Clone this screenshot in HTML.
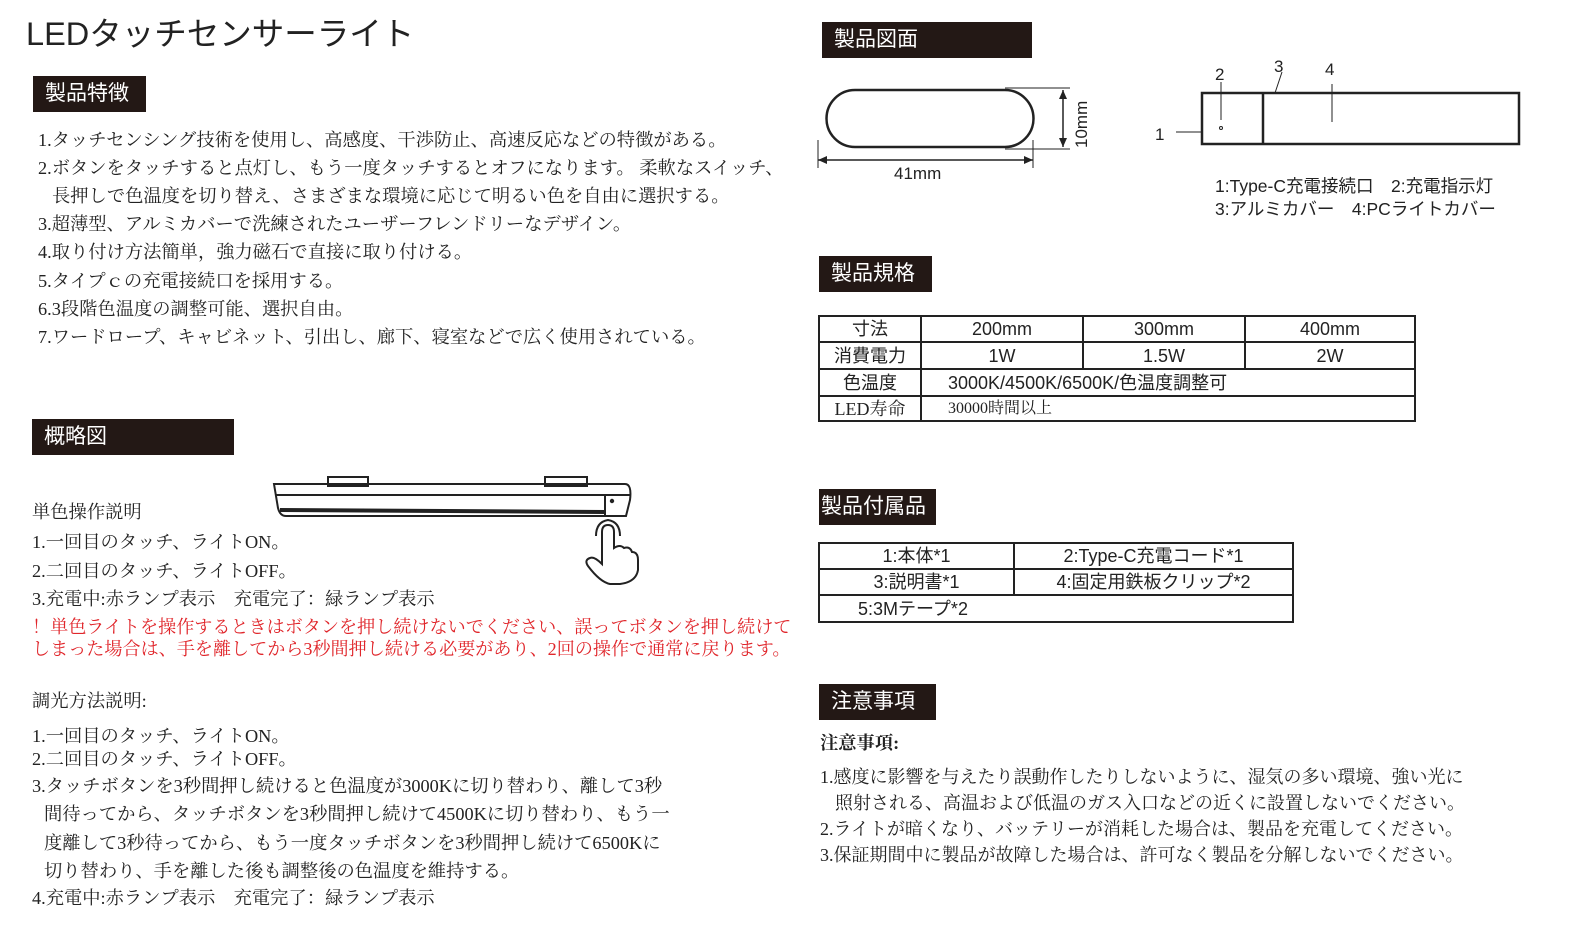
<!DOCTYPE html>
<html><head><meta charset="utf-8">
<style>
body{margin:0;width:1578px;height:939px;background:#fff;position:relative;overflow:hidden;font-family:"Liberation Serif","Noto Serif CJK SC","Noto Sans CJK JP",serif;color:#222}
.t{position:absolute;white-space:nowrap;font-size:18.3px;line-height:20px}
.s{font-family:"Liberation Sans","Noto Sans CJK JP",sans-serif}
.h{position:absolute;background:#231815;color:#fff;font-family:"Liberation Sans","Noto Sans CJK JP",sans-serif;font-size:21px;line-height:36px;height:36px;padding-left:12px;box-sizing:border-box}
.red{color:#e0262b}
table{position:absolute;border-collapse:collapse;font-family:"Liberation Sans","Noto Sans CJK JP",sans-serif;font-size:18px}
td{border:2px solid #222;padding:0;text-align:center;line-height:22px}
</style></head><body>
<div class="t s" style="left:26px;top:14px;font-size:32.5px;line-height:40px">LEDタッチセンサーライト</div>

<div class="h" style="left:33px;top:76px;width:113px">製品特徴</div>
<div class="t" style="left:38px;top:130px">1.タッチセンシング技術を使用し、高感度、干渉防止、高速反応などの特徴がある。</div>
<div class="t" style="left:38px;top:158px">2.ボタンをタッチすると点灯し、もう一度タッチするとオフになります。 柔軟なスイッチ、</div>
<div class="t" style="left:52px;top:186px">長押しで色温度を切り替え、さまざまな環境に応じて明るい色を自由に選択する。</div>
<div class="t" style="left:38px;top:214px">3.超薄型、アルミカバーで洗練されたユーザーフレンドリーなデザイン。</div>
<div class="t" style="left:38px;top:242px">4.取り付け方法簡単，強力磁石で直接に取り付ける。</div>
<div class="t" style="left:38px;top:271px">5.タイプｃの充電接続口を採用する。</div>
<div class="t" style="left:38px;top:299px">6.3段階色温度の調整可能、選択自由。</div>
<div class="t" style="left:38px;top:327px">7.ワードロープ、キャビネット、引出し、廊下、寝室などで広く使用されている。</div>

<div class="h" style="left:32px;top:419px;width:202px">概略図</div>
<svg style="position:absolute;left:270px;top:470px" width="370" height="120" viewBox="0 0 370 120">
<g fill="none" stroke="#222" stroke-width="2">
<rect x="58" y="7" width="40" height="9"/><rect x="275" y="7" width="42" height="9"/>
<path d="M4 14 H355 Q362 14 360 30 L356 46 H16 Q10 46 8 38 Z"/>
<line x1="6" y1="25" x2="360" y2="25"/>
<path d="M10 40 L335 42" stroke-width="4"/>
<line x1="335" y1="25" x2="335" y2="46"/>
<circle cx="342" cy="31" r="1.2" fill="#222"/>
<path d="M332 80 V62 Q332 55 338 55 Q344 55 344 62 V78 Q350 74 354 78 Q360 76 362 82 Q368 82 368 90 V100 Q366 112 350 114 H340 Q330 112 318 96 Q314 90 320 88 Q324 86 332 94 Z"/>
<path d="M326 66 Q326 52 338 50 Q350 52 350 66"/>
</g></svg>

<div class="t" style="left:32px;top:502px">単色操作説明</div>
<div class="t" style="left:32px;top:532px">1.一回目のタッチ、ライトON。</div>
<div class="t" style="left:32px;top:561px">2.二回目のタッチ、ライトOFF。</div>
<div class="t" style="left:32px;top:589px">3.充電中:赤ランプ表示　充電完了：緑ランプ表示</div>
<div class="t red" style="left:32px;top:617px;font-size:18.1px">！単色ライトを操作するときはボタンを押し続けないでください、誤ってボタンを押し続けて</div>
<div class="t red" style="left:32px;top:639px;font-size:18.1px">しまった場合は、手を離してから3秒間押し続ける必要があり、2回の操作で通常に戻ります。</div>
<div class="t" style="left:32px;top:691px">調光方法説明:</div>
<div class="t" style="left:32px;top:726px">1.一回目のタッチ、ライトON。</div>
<div class="t" style="left:32px;top:749px">2.二回目のタッチ、ライトOFF。</div>
<div class="t" style="left:32px;top:776px">3.タッチボタンを3秒間押し続けると色温度が3000Kに切り替わり、離して3秒</div>
<div class="t" style="left:44px;top:804px">間待ってから、タッチボタンを3秒間押し続けて4500Kに切り替わり、もう一</div>
<div class="t" style="left:44px;top:833px">度離して3秒待ってから、もう一度タッチボタンを3秒間押し続けて6500Kに</div>
<div class="t" style="left:44px;top:861px">切り替わり、手を離した後も調整後の色温度を維持する。</div>
<div class="t" style="left:32px;top:888px">4.充電中:赤ランプ表示　充電完了：緑ランプ表示</div>

<div class="h" style="left:822px;top:22px;width:210px">製品図面</div>
<svg style="position:absolute;left:805px;top:60px" width="740" height="130" viewBox="0 0 740 130">
<g fill="none" stroke="#222" stroke-width="2">
<path d="M50 30 H200 A28 28 0 0 1 200 87 H50 A28 28 0 0 1 50 30 Z" stroke-width="2.5"/>
<line x1="200" y1="28" x2="265" y2="28" stroke-width="1"/><line x1="200" y1="89" x2="265" y2="89" stroke-width="1"/>
<line x1="258" y1="30" x2="258" y2="87" stroke-width="1.5"/>
<line x1="13" y1="80" x2="13" y2="108" stroke-width="1"/><line x1="228" y1="80" x2="228" y2="108" stroke-width="1"/>
<line x1="13" y1="100" x2="228" y2="100" stroke-width="1.5"/>
<rect x="397" y="33" width="317" height="51" stroke-width="2.5"/>
<line x1="458" y1="33" x2="458" y2="84" stroke-width="2.5"/>
<line x1="371" y1="72" x2="397" y2="72" stroke-width="1"/>
<line x1="416" y1="22" x2="416" y2="60" stroke-width="1"/>
<line x1="477" y1="12" x2="470" y2="33" stroke-width="1"/>
<line x1="527" y1="24" x2="527" y2="62" stroke-width="1"/>
<circle cx="416" cy="68" r="1.5" stroke-width="1"/>
</g>
<g fill="#222"><path d="M258 30 l-4 9 h8z"/><path d="M258 87 l-4 -9 h8z"/><path d="M13 100 l9 -4 v8z"/><path d="M228 100 l-9 -4 v8z"/></g>
<g font-family="Liberation Sans,sans-serif" font-size="17" fill="#222">
<text x="89" y="119">41mm</text>
<text transform="translate(282 88) rotate(-90)">10mm</text>
<text x="350" y="80">1</text><text x="410" y="20">2</text><text x="469" y="12">3</text><text x="520" y="15">4</text>
</g></svg>
<div class="t s" style="left:1215px;top:176px;font-size:17.5px">1:Type-C充電接続口　2:充電指示灯</div>
<div class="t s" style="left:1215px;top:199px;font-size:17.5px">3:アルミカバー　4:PCライトカバー</div>

<div class="h" style="left:819px;top:256px;width:113px">製品規格</div>
<table style="left:818px;top:315px;width:598px">
<tr style="height:26px"><td style="width:100px">寸法</td><td style="width:160px">200mm</td><td style="width:160px">300mm</td><td>400mm</td></tr>
<tr style="height:27px"><td>消費電力</td><td>1W</td><td>1.5W</td><td>2W</td></tr>
<tr style="height:27px"><td>色温度</td><td colspan="3" style="text-align:left;padding-left:26px">3000K/4500K/6500K/色温度調整可</td></tr>
<tr style="height:25px"><td style="font-family:'Liberation Serif','Noto Serif CJK SC',serif">LED寿命</td><td colspan="3" style="text-align:left;padding-left:26px;font-family:'Liberation Serif','Noto Serif CJK SC',serif;font-size:16px">30000時間以上</td></tr>
</table>

<div class="h" style="left:819px;top:489px;width:117px;padding-left:2px">製品付属品</div>
<table style="left:818px;top:542px;width:476px">
<tr style="height:26px"><td style="width:193px">1:本体*1</td><td>2:Type-C充電コード*1</td></tr>
<tr style="height:26px"><td>3:説明書*1</td><td>4:固定用鉄板クリップ*2</td></tr>
<tr style="height:27px"><td colspan="2" style="text-align:left;padding-left:38px">5:3Mテープ*2</td></tr>
</table>

<div class="h" style="left:819px;top:684px;width:117px">注意事項</div>
<div class="t" style="left:820px;top:733px;font-weight:bold">注意事項:</div>
<div class="t" style="left:820px;top:767px;font-size:18px">1.感度に影響を与えたり誤動作したりしないように、湿気の多い環境、強い光に</div>
<div class="t" style="left:835px;top:793px;font-size:18px">照射される、高温および低温のガス入口などの近くに設置しないでください。</div>
<div class="t" style="left:820px;top:819px;font-size:18px">2.ライトが暗くなり、バッテリーが消耗した場合は、製品を充電してください。</div>
<div class="t" style="left:820px;top:845px;font-size:18px">3.保証期間中に製品が故障した場合は、許可なく製品を分解しないでください。</div>
</body></html>
